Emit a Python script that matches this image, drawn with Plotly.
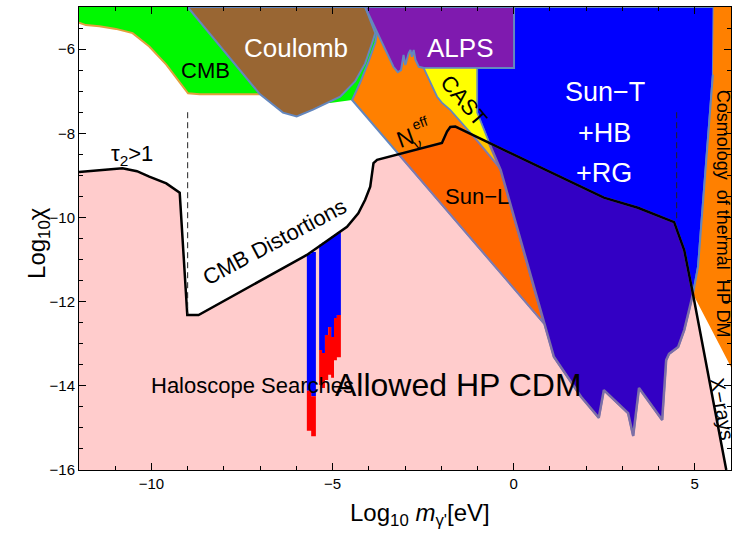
import plotly.graph_objects as go

X_RANGE = [-12, 6]
Y_RANGE = [-16, -5]

# Black boundary of the allowed HP CDM region
bound_x = [-12.0, -11.4, -10.80, -10.40, -10.06, -9.59, -9.22, -9.01, -8.70, -5.71, -4.60, -4.29, -4.10,
           -3.96, -3.87, -3.77, -1.98, -1.84, -1.75, -1.61, -1.52, 2.49, 3.43, 4.43, 4.71, 4.95, 5.87]
bound_y = [-8.92, -8.87, -8.83, -8.90, -9.03, -9.19, -9.41, -12.32, -12.32, -10.89, -10.22, -9.90, -9.58,
           -9.27, -8.71, -8.63, -8.23, -7.96, -7.85, -7.84, -7.88, -9.53, -9.77, -10.11, -10.78, -11.82, -16.0]

# CMB (green) region and its lower edge
cmb_x = [-12.0, -12.0, -11.81, -11.44, -10.98, -10.52, -10.06, -9.59, -9.13, -8.99, -8.67, -7.01,
         -5.90, -5.07, -4.46, -3.95, -3.72, -3.9]
cmb_y = [-5.0, -5.37, -5.43, -5.46, -5.52, -5.62, -5.94, -6.37, -6.90, -7.05, -7.07, -7.07,
         -7.13, -7.28, -7.21, -6.6, -5.6, -5.0]
CMB_EDGE_N = 12

# N_eff (orange) region
neff_x = [-3.77, -2.60, -2.48, -2.11, -1.98, -1.75, -1.19, -0.41, -0.36, -0.28, 0.83, -4.46, -4.24, -4.02, -3.82]
neff_y = [-5.59, -5.95, -6.45, -7.13, -7.27, -7.44, -7.99, -8.80, -8.87, -9.11, -12.51, -7.21, -6.80, -6.33, -5.85]

# Coulomb
coul_x = [-9.00, -7.01, -6.37, -5.99, -5.54, -5.25, -4.79, -4.38, -4.10, -3.91, -3.82, -4.10]
coul_y = [-5.0, -7.07, -7.51, -7.60, -7.44, -7.32, -7.13, -6.77, -6.34, -5.86, -5.62, -5.0]

# Sun-T + HB + RG (blue)
sunt_x = [-1.01, -1.01, -0.41, -0.36, -0.28, 0.83, 0.97, 1.11, 1.86, 2.35, 2.49, 3.16, 3.30, 3.46, 4.10,
          4.21, 4.29, 4.54, 4.71, 4.85, 4.95, 5.09, 5.23, 5.50, 5.52]
sunt_y = [-5.0, -7.51, -8.80, -8.87, -9.11, -12.51, -12.91, -13.31, -14.26, -14.76, -14.10, -14.65, -15.19,
          -14.05, -14.81, -13.39, -13.24, -13.08, -12.67, -12.20, -11.82, -11.17, -9.58, -6.61, -5.0]

# ALPS
alps_x = [-4.10, -3.78, -3.32, -3.20, -3.11, -3.04, -2.99, -2.90, -2.85, -2.81, -2.76, -2.71, -2.62, -2.48, 0.01, 0.01]
alps_y = [-5.0, -5.59, -6.42, -6.55, -6.50, -6.14, -6.38, -6.10, -6.02, -6.18, -6.02, -6.26, -6.42, -6.45, -6.45, -5.0]

# CAST
cast_x = [-2.48, -1.01, -1.01, -0.41, -1.19, -1.75, -1.98, -2.11]
cast_y = [-6.45, -6.45, -7.51, -8.80, -7.99, -7.44, -7.27, -7.13]
castlow_x = [-1.15, -0.68, -0.41]
castlow_y = [-8.03, -8.23, -8.80]

# Sun-L (below the boundary)
sunl_x = [-3.17, -1.98, -1.84, -1.75, -1.61, -1.52, -1.15, -0.41, -0.36, -0.28, 0.83]
sunl_y = [-8.50, -8.23, -7.96, -7.85, -7.84, -7.88, -8.03, -8.80, -8.87, -9.11, -12.51]

# Sun-T below the boundary (dark violet)
purp_x = [-0.68, -0.41, -0.36, -0.28, 0.83, 0.97, 1.11, 1.86, 2.35, 2.49, 3.16, 3.30, 3.46, 4.10, 4.21,
          4.29, 4.54, 4.71, 4.85, 4.95, 4.71, 4.43, 3.43, 2.49]
purp_y = [-8.23, -8.80, -8.87, -9.11, -12.51, -12.91, -13.31, -14.26, -14.76, -14.10, -14.65, -15.19, -14.05,
          -14.81, -13.39, -13.24, -13.08, -12.67, -12.20, -11.82, -10.78, -10.11, -9.77, -9.53]

# Cosmology of thermal HP DM
cosmo_x = [5.52, 6.0, 6.0, 4.95, 5.09, 5.23, 5.50]
cosmo_y = [-5.0, -5.0, -13.55, -11.82, -11.17, -9.58, -6.61]

# Haloscope searches
halo_left = [-5.71, -5.59, -5.37, -5.29, -5.21, -5.12, -5.04, -4.96, -4.88]
halo_right = [-5.59, -5.46, -5.29, -5.21, -5.12, -5.04, -4.96, -4.88, -4.77]
halo_top = [-10.87, -10.82, -10.65, -10.60, -10.56, -10.51, -10.46, -10.41, -10.35]
halo_mid = [-14.12, -14.25, -13.15, -13.22, -12.79, -12.60, -12.84, -12.39, -12.32]
halo_bot = [-15.07, -15.20, -13.98, -14.05, -13.86, -13.74, -13.81, -13.39, -13.32]

# Dashed vertical guides
dash_x = [-9.0, 4.5]
dash_top = [-7.5, -7.5]
dash_bot = [-12.3, -10.1]

FONT = "Liberation Sans, Arial, sans-serif"
EDGE = "#6487BE"

fig = go.Figure()


def poly(x, y, fill, line=None, width=0):
    fig.add_trace(go.Scatter(
        x=list(x) + [x[0]], y=list(y) + [y[0]], mode="lines", fill="toself", fillcolor=fill,
        line=dict(color=line if line else fill, width=width if line else 0),
        hoverinfo="skip", showlegend=False))


def rects(left, right, top, bot, color):
    xs, ys = [], []
    for l, r, t, b in zip(left, right, top, bot):
        xs += [l, r, r, l, l, None]
        ys += [t, t, b, b, t, None]
    fig.add_trace(go.Scatter(x=xs, y=ys, mode="lines", fill="toself", fillcolor=color,
                             line=dict(width=0, color=color), hoverinfo="skip", showlegend=False))


# pink allowed region
poly(bound_x + [X_RANGE[0]], bound_y + [Y_RANGE[0]], "#FFCCCC")
# CMB
poly(cmb_x, cmb_y, "#00F800")
fig.add_trace(go.Scatter(x=cmb_x[1:CMB_EDGE_N], y=cmb_y[1:CMB_EDGE_N], mode="lines",
                         line=dict(color="#E3A03C", width=2), hoverinfo="skip", showlegend=False))
# N_eff
poly(neff_x, neff_y, "#FF8000", EDGE, 2)
# Coulomb
poly(coul_x, coul_y, "#996633", EDGE, 2)
# Sun-T
poly(sunt_x, sunt_y, "#0000FF", EDGE, 2)
# ALPS
poly(alps_x, alps_y, "#7F1AAF", EDGE, 2)
# CAST
poly(cast_x, cast_y, "#FFFF00", EDGE, 1.5)
poly(castlow_x, castlow_y, "#FFC000")
# Sun-L
poly(sunl_x, sunl_y, "#FF6600", "#7F7AAE", 2)
# Sun-T below
poly(purp_x, purp_y, "#3300C4", "#7D6FA6", 2.5)
# Cosmology
poly(cosmo_x, cosmo_y, "#FF8000")
fig.add_trace(go.Scatter(x=sunt_x[-5:-1][::-1], y=sunt_y[-5:-1][::-1], mode="lines",
                         line=dict(color=EDGE, width=2), hoverinfo="skip", showlegend=False))
# Haloscopes
rects(halo_left, halo_right, halo_top, halo_mid, "#0000FF")
rects(halo_left, halo_right, halo_mid, halo_bot, "#FF0000")
# Boundary
fig.add_trace(go.Scatter(x=bound_x, y=bound_y, mode="lines", line=dict(color="black", width=2.5),
                         hoverinfo="skip", showlegend=False))
for dx, t, b in zip(dash_x, dash_top, dash_bot):
    fig.add_trace(go.Scatter(x=[dx, dx], y=[t, b], mode="lines",
                             line=dict(color="#222222", width=1, dash="6px,4px"),
                             hoverinfo="skip", showlegend=False))

labels = [
    ("CMB", -8.52, -6.50, 22, "black", 0),
    ("Coulomb", -6.0, -5.98, 26, "white", 0),
    ("ALPS", -1.48, -5.98, 26, "white", 0),
    ("CAST", -1.37, -7.21, 22, "black", 50),
    ("Sun\u2212T", 2.51, -7.01, 27, "white", 0),
    ("+HB", 2.50, -8.00, 27, "white", 0),
    ("+RG", 2.50, -8.95, 27, "white", 0),
    ("Sun\u2212L", -1.00, -9.50, 22, "black", 0),
    ("N", -2.99, -8.11, 23, "black", -20),
    ("eff", -2.60, -7.75, 14, "black", -20),
    ("\u03bd", -2.63, -8.25, 15, "black", -20),
    ("\u03c4<sub>2</sub>>1", -10.55, -8.51, 22, "black", 0),
    ("CMB Distortions", -6.59, -10.57, 22, "black", -28),
    ("Haloscope Searches", -7.22, -14.0, 22, "black", 0),
    ("Allowed HP CDM", -1.52, -13.98, 32, "black", 0),
    ("Cosmology\u00a0\u00a0of thermal\u00a0\u00a0HP DM", 5.78, -9.91, 18, "black", 90),
    ("X\u2212rays", 5.76, -14.55, 20, "black", 80),
]
for txt, x, y, s, c, a in labels:
    fig.add_annotation(x=x, y=y, xref="x", yref="y", text=txt, showarrow=False, textangle=a,
                       font=dict(family=FONT, size=s, color=c), xanchor="center", yanchor="middle")

fig.add_annotation(x=-0.09, y=0.49, xref="paper", yref="paper", text="Log<sub>10</sub>\u03c7",
                   textangle=-90, showarrow=False, font=dict(family=FONT, size=24, color="black"))
fig.add_annotation(x=0.523, y=-0.097, xref="paper", yref="paper",
                   text="Log<sub>10</sub> <i>m</i><sub>\u03b3'</sub>[eV]", showarrow=False,
                   yanchor="middle", font=dict(family=FONT, size=24, color="black"))

axis_common = dict(showgrid=False, zeroline=False, showline=True, linecolor="black", linewidth=1,
                   mirror="ticks", ticks="inside", ticklen=7, tickwidth=1, tickcolor="black",
                   tickfont=dict(family=FONT, size=15, color="black"), layer="above traces")
fig.update_xaxes(range=X_RANGE, tick0=0, dtick=5,
                 minor=dict(dtick=1, tick0=0, ticks="inside", ticklen=4, tickcolor="black"), **axis_common)
fig.update_yaxes(range=Y_RANGE, tick0=0, dtick=2,
                 minor=dict(dtick=0.5, tick0=0, ticks="inside", ticklen=4, tickcolor="black"), **axis_common)
fig.update_layout(width=740, height=533, margin=dict(l=79, r=9, t=7, b=63),
                  plot_bgcolor="white", paper_bgcolor="white", showlegend=False)
fig.write_html("out.html")
